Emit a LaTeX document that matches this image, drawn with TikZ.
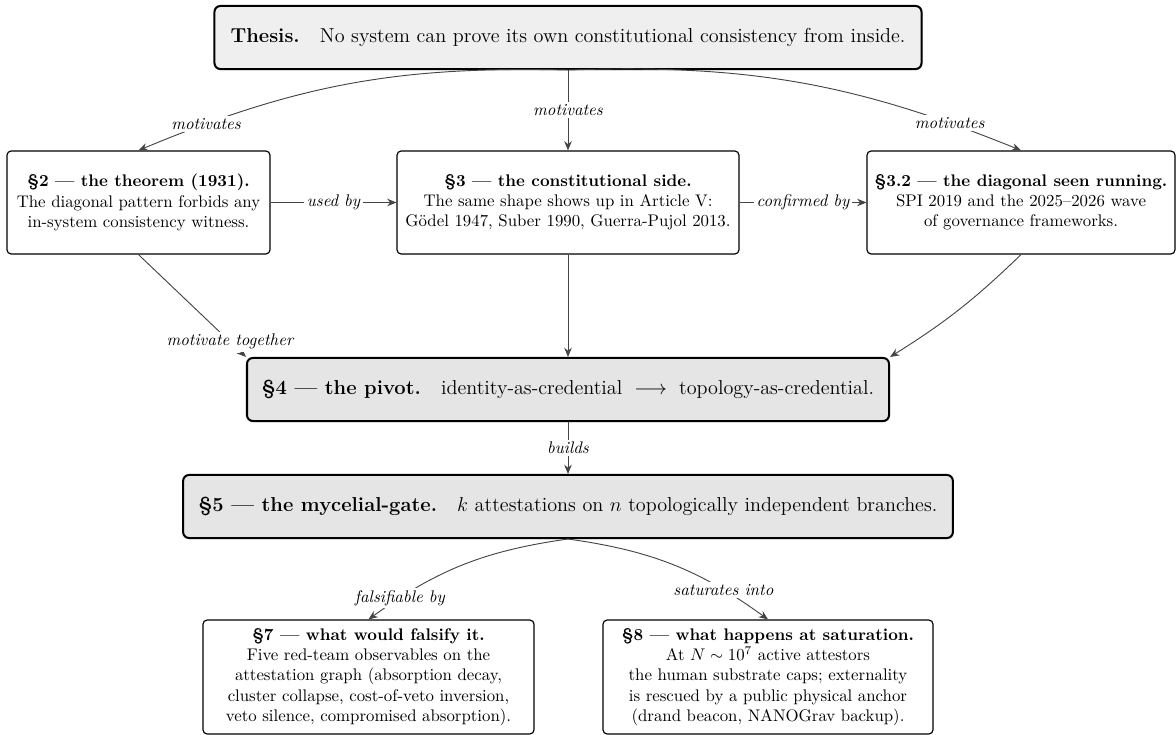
\documentclass[tikz,border=0pt]{standalone}
\usetikzlibrary{arrows.meta,shadows}
\definecolor{thesisfill}{HTML}{EFEFEF}
\definecolor{corefill}{HTML}{E5E5E5}
\definecolor{edgegray}{HTML}{444444}
\tikzset{
  bigbox/.style={draw=black, line width=1.2pt, rounded corners=3.5pt, fill=#1,
    minimum height=37.5pt, font=\large, inner sep=0pt,
    drop shadow={shadow xshift=0.6pt, shadow yshift=-0.6pt, opacity=0.25}},
  smallbox/.style={draw=black, line width=0.7pt, rounded corners=2.5pt, fill=white,
    align=center, inner sep=3pt},
  flow/.style={draw=edgegray, line width=0.55pt, -{Stealth[length=5.5pt,width=4.5pt]}},
  lbl/.style={fill=white, font=\itshape, inner sep=1.5pt},
}
\begin{document}
\begin{tikzpicture}[x=0.595pt, y=-0.595pt]
\useasboundingbox (0,0) rectangle (1176,735);

% top thesis
\node[bigbox=thesisfill, minimum width=420.7pt] (thesis) at (568,37.5)
  {\textbf{Thesis.}\quad No system can prove its own constitutional consistency from inside.};

% second row
\node[smallbox, minimum width=156.5pt, minimum height=61.3pt] (s2) at (138.5,202.5)
  {\textbf{\S2 --- the theorem (1931).}\\
   The diagonal pattern forbids any\\
   in-system consistency witness.};
\node[smallbox, minimum width=203.5pt, minimum height=61.3pt] (s3) at (568,202.5)
  {\textbf{\S3 --- the constitutional side.}\\
   The same shape shows up in Article V:\\
   G\"odel 1947, Suber 1990, Guerra-Pujol 2013.};
\node[smallbox, minimum width=183.3pt, minimum height=61.3pt] (s32) at (1021,202.5)
  {\textbf{\S3.2 --- the diagonal seen running.}\\
   SPI 2019 and the 2025--2026 wave\\
   of governance frameworks.};

% pivot and gate
\node[bigbox=corefill, minimum width=382pt] (s4) at (568,389.5)
  {\textbf{\S4 --- the pivot.}\quad identity-as-credential\;\ $\longrightarrow$\;\ topology-as-credential.};
\node[bigbox=corefill, minimum width=458pt] (s5) at (568,506.5)
  {\textbf{\S5 --- the mycelial-gate.}\quad $k$ attestations on $n$ topologically independent branches.};

% consequences
\node[smallbox, minimum width=197pt, minimum height=67.8pt] (s7) at (368.5,677)
  {\textbf{\S7 --- what would falsify it.}\\
   Five red-team observables on the\\
   attestation graph (absorption decay,\\
   cluster collapse, cost-of-veto inversion,\\
   veto silence, compromised absorption).};
\node[smallbox, minimum width=196.4pt, minimum height=67.8pt] (s8) at (768,677)
  {\textbf{\S8 --- what happens at saturation.}\\
   At $N\sim10^7$ active attestors\\
   the human substrate caps; externality\\
   is rescued by a public physical anchor\\
   (drand beacon, NANOGrav backup).};

% connectors
\draw[flow] (thesis.south) to[bend right=12] node[lbl, pos=0.85] {motivates} (s2.north);
\draw[flow] (thesis.south) -- node[lbl] {motivates} (s3.north);
\draw[flow] (thesis.south) to[bend left=12] node[lbl, pos=0.85] {motivates} (s32.north);

\draw[flow] (s2.east) -- node[lbl] {used by} (s3.west);
\draw[flow] (s3.east) -- node[lbl] {confirmed by} (s32.west);

\draw[flow] (s2.south) -- node[lbl, pos=0.85] {motivate together} (s4.north west);
\draw[flow] (s3.south) -- (s4.north);
\draw[flow] (s32.south) to[bend left=6] (s4.north east);

\draw[flow] (s4.south) -- node[lbl] {builds} (s5.north);

\draw[flow] (s5.south) to[bend right=14] node[lbl, pos=0.84] {falsifiable by} (s7.north);
\draw[flow] (s5.south) to[bend left=14] node[lbl, pos=0.77] {saturates into} (s8.north);
\end{tikzpicture}
\end{document}
